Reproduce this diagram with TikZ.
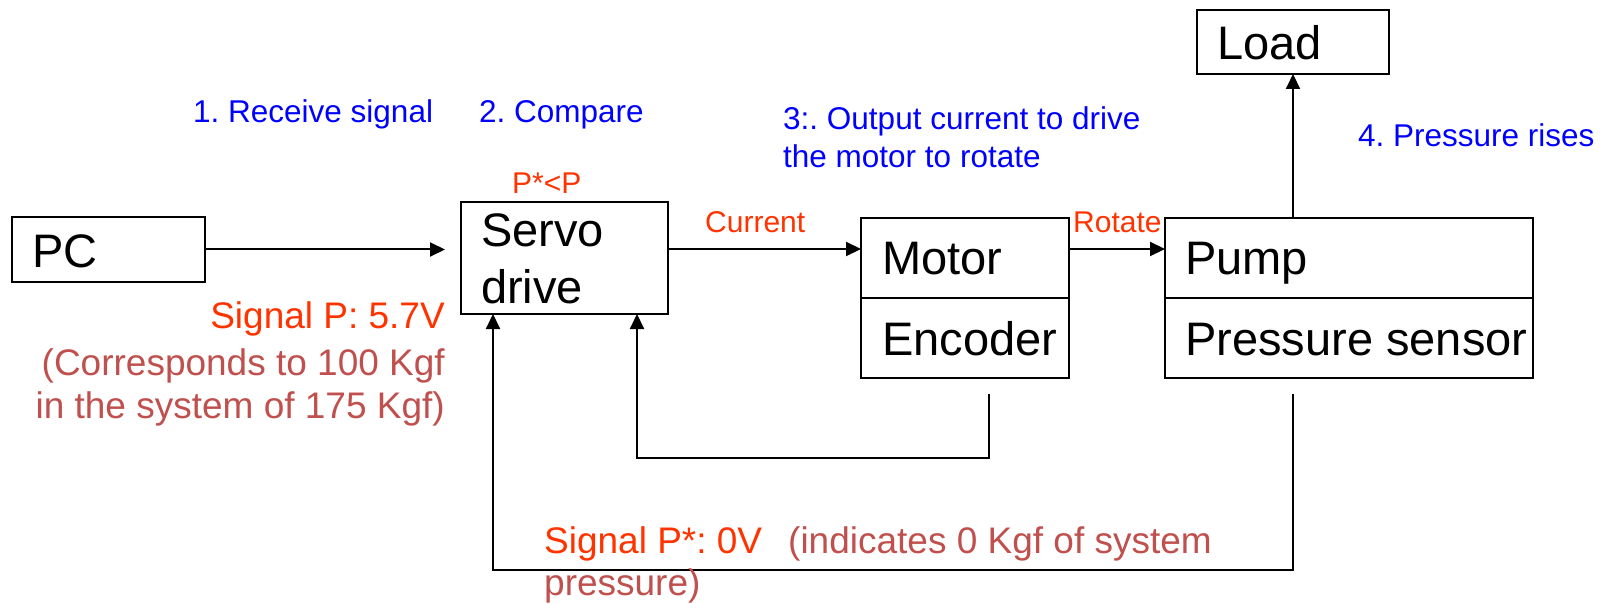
\documentclass[tikz,border=0pt]{standalone}
\usepackage{fontspec}
\setmainfont{Liberation Sans}
\usetikzlibrary{arrows.meta}
\definecolor{stepblue}{RGB}{0,0,255}
\definecolor{sigred}{RGB}{255,51,0}
\definecolor{notebrown}{RGB}{192,80,77}
\frenchspacing
\begin{document}
\begin{tikzpicture}[x=1pt,y=-1pt,
  box/.style={draw, line width=2.4pt, inner sep=0pt, outer sep=0pt},
  boxtext/.style={inner sep=0pt, font=\fontsize{47}{50}\selectfont},
  bluetext/.style={inner sep=0pt, text=stepblue, font=\fontsize{31.5}{36}\selectfont},
  smallred/.style={inner sep=0pt, text=sigred, font=\fontsize{30}{34}\selectfont},
  bigred/.style={inner sep=0pt, text=sigred, font=\fontsize{37}{42}\selectfont},
  brownnote/.style={inner sep=0pt, text=notebrown, font=\fontsize{37}{42}\selectfont},
  arr/.style={line width=2pt, -{Triangle[length=15pt,width=14pt]}},
  fbline/.style={line width=2pt}]
\useasboundingbox (0,0) rectangle (1612,604);

% boxes
\node[box, minimum width=193pt, minimum height=65pt] (pc) at (108.5,249.5) {};
\node[box, minimum width=207pt, minimum height=112pt] (servo) at (564.5,258) {};
\node[box, minimum width=208pt, minimum height=80pt] (motor) at (965,258) {};
\node[box, minimum width=208pt, minimum height=80pt] (encoder) at (965,338) {};
\node[box, minimum width=368pt, minimum height=80pt] (pump) at (1349,258) {};
\node[box, minimum width=368pt, minimum height=80pt] (sensor) at (1349,338) {};
\node[box, minimum width=192pt, minimum height=64pt] (load) at (1293,42) {};

% box texts
\node[boxtext, anchor=base west] (pctxt) at (32,267) {PC};
\node[boxtext, anchor=base west] (servotxt) at (481,247) {Servo};
\node[boxtext, anchor=base west] (drivetxt) at (481,303) {drive};
\node[boxtext, anchor=base west] (motortxt) at (882,275) {Motor};
\node[boxtext, anchor=base west] (enctxt) at (882,355) {Encoder};
\node[boxtext, anchor=base west] (pumptxt) at (1185,275) {Pump};
\begin{scope}
\clip (1165,298) rectangle (1533,378);
\node[boxtext, anchor=base west] (sensortxt) at (1185,355) {Pressure sensor};
\end{scope}
\node[boxtext, anchor=base west] (loadtxt) at (1217,60) {Load};

% forward arrows
\draw[arr] (pc.east) -- ([xshift=-16pt]servo.west |- pc.east);
\draw[arr] (servo.east |- 0,249) -- (motor.west |- 0,249);
\draw[arr] (motor.east |- 0,249) -- (pump.west |- 0,249);
\draw[arr] (load.south |- pump.north) -- (load.south);

% feedback loops
\coordinate (encout) at (989,394);
\coordinate (sensout) at (1293,394);
\draw[arr] (encout) -- ++(0,64) -| ([xshift=72.5pt]servo.south);
\draw[arr] (sensout) -- ++(0,176) -| ([xshift=-71.5pt]servo.south);

% step labels
\node[bluetext, anchor=base west] (step1) at (193,123) {1. Receive signal};
\node[bluetext, anchor=base west] (step2) at (479,123) {2. Compare};
\node[bluetext, anchor=base west] (step3a) at (783,130) {3:. Output current to drive};
\node[bluetext, anchor=base west] (step3b) at (783,168) {the motor to rotate};
\node[bluetext, anchor=base west] (step4) at (1358,147) {4. Pressure rises};

% small red labels
\node[smallred, anchor=base west] (cmp) at (512,194) {P*<P};
\node[smallred, anchor=base west] (curlbl) at (705,233) {Current};
\node[smallred, anchor=base west] (rotlbl) at (1073,233) {Rotate};

% signal notes
\node[bigred, anchor=base east] (sigp) at (445,328) {Signal P: 5.7V};
\node[brownnote, anchor=base east] (sigpa) at (445,375) {(Corresponds to 100 Kgf};
\node[brownnote, anchor=base east] (sigpb) at (445,418) {in the system of 175 Kgf)};
\node[bigred, anchor=base west] (sigps) at (544,553) {Signal P*: 0V};
\node[brownnote, anchor=base west] (sigpsa) at (788,553) {(indicates 0 Kgf of system};
\node[brownnote, anchor=base west] (sigpsb) at (544,595) {pressure)};
\end{tikzpicture}
\end{document}
